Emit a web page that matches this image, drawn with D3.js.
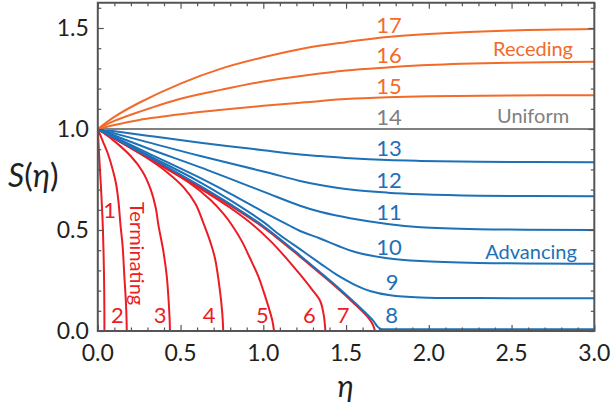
<!DOCTYPE html>
<html>
<head>
<meta charset="utf-8">
<script src="https://cdn.jsdelivr.net/npm/d3@7"></script>
<style>
  html, body { margin: 0; padding: 0; background: #fff; }
  svg { display: block; }
  text { font-family: Lato, "Open Sans", sans-serif; }
</style>
</head>
<body>
<svg id="chart" width="613" height="412"></svg>
<script>
// Similarity profiles S(eta), [eta, S] pairs.
// Terminating fronts (1-7)
const curve1 = [[0,1],[0.006,0.9],[0.013,0.8],[0.02,0.7],[0.026,0.6],[0.031,0.5],[0.035,0.38],[0.038,0.25],[0.0395,0.12],[0.04,0]];
const curve2 = [[0,1],[0.03,0.94],[0.06,0.88],[0.09,0.8],[0.11,0.73],[0.125,0.64],[0.137,0.525],[0.15,0.42],[0.16,0.277],[0.17,0.14],[0.174,0.05],[0.175,0]];
const curve3 = [[0,1],[0.1,0.94],[0.2,0.865],[0.27,0.79],[0.32,0.7],[0.35,0.61],[0.366,0.525],[0.395,0.4],[0.416,0.277],[0.428,0.15],[0.434,0.06],[0.436,0]];
const curve4 = [[0,1],[0.15,0.93],[0.3,0.855],[0.42,0.785],[0.52,0.71],[0.59,0.63],[0.64,0.53],[0.68,0.44],[0.708,0.36],[0.738,0.2],[0.752,0.09],[0.758,0]];
const curve5 = [[0,1],[0.2,0.905],[0.4,0.81],[0.55,0.735],[0.68,0.65],[0.76,0.58],[0.81,0.525],[0.87,0.445],[0.92,0.36],[0.97,0.27],[1.0,0.2],[1.035,0.11],[1.055,0.05],[1.065,0]];
const curve6 = [[0,1],[0.3,0.86],[0.6,0.715],[0.8,0.61],[0.938,0.525],[1.05,0.44],[1.15,0.35],[1.222,0.28],[1.29,0.21],[1.343,0.15],[1.365,0.08],[1.375,0]];
const curve7 = [[0,1],[0.3,0.863],[0.6,0.722],[0.8,0.622],[0.98,0.525],[1.1,0.45],[1.222,0.368],[1.343,0.285],[1.45,0.21],[1.55,0.135],[1.63,0.07],[1.66,0.035],[1.675,0]];
// Advancing fronts (8-13)
const curve8 = [[0,1],[0.3,0.866],[0.6,0.727],[0.8,0.628],[1.0,0.52],[1.222,0.374],[1.343,0.291],[1.45,0.216],[1.55,0.142],[1.63,0.08],[1.665,0.05],[1.69,0.022],[1.71,0.01],[1.75,0.009],[2.0,0.009],[3.0,0.009]];
const curve9 = [[0,1],[0.3,0.872],[0.6,0.745],[0.8,0.648],[1.0,0.54],[1.1,0.475],[1.222,0.405],[1.343,0.335],[1.45,0.275],[1.55,0.23],[1.65,0.197],[1.767,0.177],[1.95,0.166],[2.3,0.163],[3.0,0.162]];
const curve10 = [[0,1],[0.3,0.882],[0.6,0.765],[0.8,0.68],[1.0,0.59],[1.15,0.525],[1.222,0.495],[1.343,0.458],[1.45,0.422],[1.55,0.392],[1.75,0.36],[1.95,0.346],[2.3,0.337],[3.0,0.333]];
const curve11 = [[0,1],[0.3,0.905],[0.62,0.81],[1.0,0.69],[1.222,0.62],[1.343,0.59],[1.525,0.558],[1.75,0.53],[1.95,0.514],[2.3,0.504],[3.0,0.5]];
const curve12 = [[0,1],[0.3,0.935],[0.62,0.866],[1.0,0.79],[1.222,0.743],[1.343,0.723],[1.525,0.7],[1.75,0.685],[1.95,0.677],[2.3,0.67],[3.0,0.667]];
const curve13 = [[0,1],[0.3,0.967],[0.62,0.932],[1.0,0.895],[1.222,0.874],[1.343,0.866],[1.525,0.855],[1.75,0.846],[1.95,0.842],[2.3,0.838],[3.0,0.835]];
// Uniform (14)
const curve14 = [[0,1],[3.0,1]];
// Receding fronts (15-17)
const curve15 = [[0,1],[0.1,1.02],[0.25,1.045],[0.5,1.073],[0.75,1.095],[1.0,1.115],[1.25,1.132],[1.5,1.148],[1.75,1.157],[2.0,1.162],[2.5,1.166],[3.0,1.167]];
const curve16 = [[0,1],[0.1,1.04],[0.25,1.085],[0.5,1.15],[0.75,1.195],[1.0,1.235],[1.25,1.265],[1.5,1.29],[1.75,1.305],[2.0,1.317],[2.5,1.328],[3.0,1.333]];
const curve17 = [[0,1],[0.1,1.06],[0.25,1.13],[0.5,1.225],[0.75,1.3],[1.0,1.355],[1.25,1.4],[1.5,1.43],[1.75,1.455],[2.0,1.47],[2.5,1.488],[3.0,1.495]];

const curves = [curve1, curve2, curve3, curve4, curve5, curve6, curve7, curve8, curve9,
                curve10, curve11, curve12, curve13, curve14, curve15, curve16, curve17];
const curveNames = ["1","2","3","4","5","6","7","8","9","10","11","12","13","14","15","16","17"];
const curveKinds = ["term","term","term","term","term","term","term","adv","adv","adv","adv","adv","adv","uni","rec","rec","rec"];
// label anchor points in (eta, S)
const labelSpots = [[0.071,0.599],[0.119,0.077],[0.376,0.077],[0.672,0.077],[0.995,0.077],[1.279,0.077],[1.482,0.077],
                    [1.776,0.077],[1.778,0.240],[1.759,0.413],[1.759,0.587],[1.759,0.748],[1.759,0.906],
                    [1.759,1.059],[1.759,1.213],[1.759,1.366],[1.759,1.515]];
const groupNames = ["Receding","Uniform","Advancing","Terminating"];
const groupKinds = ["rec","uni","adv","term"];
const groupSpots = [[2.63,1.359],[2.63,1.032],[2.618,0.356],[0.197,0.639]];

const xTicks = [0, 0.5, 1.0, 1.5, 2.0, 2.5, 3.0];
const yTicks = [0, 0.5, 1.0, 1.5];
const xDomain = [0, 3];
const yDomain = [0, 1.625];

const colors = { term: "#ec1c24", adv: "#1d71b8", uni: "#808080", rec: "#f26b2a" };

const svg = d3.select("#chart");
const plotLeft = 97.8, plotRight = 594.3, plotTop = 2.75, plotBottom = 331;
const x = d3.scaleLinear().domain(xDomain).range([plotLeft, plotRight]);
const y = d3.scaleLinear().domain(yDomain).range([plotBottom, plotTop]);

svg.append("defs").append("clipPath").attr("id", "plotclip")
  .append("rect").attr("x", plotLeft).attr("y", plotTop)
  .attr("width", plotRight - plotLeft).attr("height", plotBottom - plotTop);

const line = d3.line()
  .x(d => x(d[0])).y(d => y(d[1]))
  .curve(d3.curveCatmullRom.alpha(0.5));

const plot = svg.append("g").attr("clip-path", "url(#plotclip)");
plot.selectAll("path.profile").data(curves).join("path")
  .attr("class", "profile")
  .attr("d", line)
  .attr("fill", "none")
  .attr("stroke", (d, i) => colors[curveKinds[i]])
  .attr("stroke-width", 2)
  .attr("stroke-linejoin", "round");

// frame with inward ticks on all four sides
const minorX = d3.range(0, 31, 1).map(v => v / 10).filter(v => !xTicks.some(t => Math.abs(t - v) < 1e-9));
const minorY = d3.range(0, 17, 1).map(v => v / 10).filter(v => !yTicks.some(t => Math.abs(t - v) < 1e-9));
const frameColor = "#555";

function tickAxis(gen, scale, values, size, transform) {
  const g = svg.append("g").attr("transform", transform)
    .call(gen(scale).tickValues(values).tickSize(-size).tickSizeOuter(0).tickFormat(""));
  g.select(".domain").remove();
  g.selectAll(".tick line").attr("stroke", frameColor).attr("stroke-width", 1.2);
  g.selectAll(".tick text").remove();
  return g;
}
tickAxis(d3.axisBottom, x, xTicks, 6, `translate(0,${plotBottom})`);
tickAxis(d3.axisBottom, x, minorX, 3.5, `translate(0,${plotBottom})`);
tickAxis(d3.axisTop, x, xTicks, 6, `translate(0,${plotTop})`);
tickAxis(d3.axisTop, x, minorX, 3.5, `translate(0,${plotTop})`);
tickAxis(d3.axisLeft, y, yTicks, 6, `translate(${plotLeft},0)`);
tickAxis(d3.axisLeft, y, minorY, 3.5, `translate(${plotLeft},0)`);
tickAxis(d3.axisRight, y, yTicks, 6, `translate(${plotRight},0)`);
tickAxis(d3.axisRight, y, minorY, 3.5, `translate(${plotRight},0)`);

svg.append("rect")
  .attr("x", plotLeft).attr("y", plotTop)
  .attr("width", plotRight - plotLeft).attr("height", plotBottom - plotTop)
  .attr("fill", "none").attr("stroke", frameColor).attr("stroke-width", 2);

// tick labels
const fmt = d3.format(".1f");
svg.append("g").selectAll("text").data(yTicks).join("text")
  .attr("x", plotLeft - 9).attr("y", d => y(d) + 7.8)
  .attr("text-anchor", "end").attr("font-size", 23).attr("fill", "#231f20")
  .text(fmt);
svg.append("g").selectAll("text").data(xTicks).join("text")
  .attr("x", d => x(d)).attr("y", 361)
  .attr("text-anchor", "middle").attr("font-size", 23).attr("fill", "#231f20")
  .text(fmt);

// axis titles
const yt = svg.append("text").attr("x", 8).attr("y", 187)
  .attr("font-family", "'Liberation Serif', 'Times New Roman', serif")
  .attr("font-size", 32).attr("fill", "#231f20");
yt.append("tspan").attr("font-style", "italic").text("S");
yt.append("tspan").text("(");
yt.append("tspan").attr("font-style", "italic").text("η");
yt.append("tspan").text(")");

svg.append("text").attr("x", (plotLeft + plotRight) / 2 - 0.5).attr("y", 397)
  .attr("text-anchor", "middle")
  .attr("font-family", "'Liberation Serif', 'Times New Roman', serif")
  .attr("font-style", "italic").attr("font-size", 30).attr("fill", "#231f20")
  .text("η");

// curve number labels
svg.append("g").selectAll("text").data(curveNames).join("text")
  .attr("x", (d, i) => x(labelSpots[i][0]))
  .attr("y", (d, i) => y(labelSpots[i][1]) + 7.8)
  .attr("text-anchor", "middle").attr("font-size", 22)
  .attr("fill", (d, i) => colors[curveKinds[i]])
  .text(d => d);

// group labels
groupNames.forEach((name, i) => {
  const px = x(groupSpots[i][0]), py = y(groupSpots[i][1]);
  const t = svg.append("text").attr("font-size", 20).attr("fill", colors[groupKinds[i]]).text(name);
  if (groupKinds[i] === "term") {
    t.attr("transform", `translate(${px},${py}) rotate(90)`).attr("text-anchor", "start");
  } else {
    t.attr("x", px).attr("y", py).attr("text-anchor", "middle");
  }
});
</script>
</body>
</html>
